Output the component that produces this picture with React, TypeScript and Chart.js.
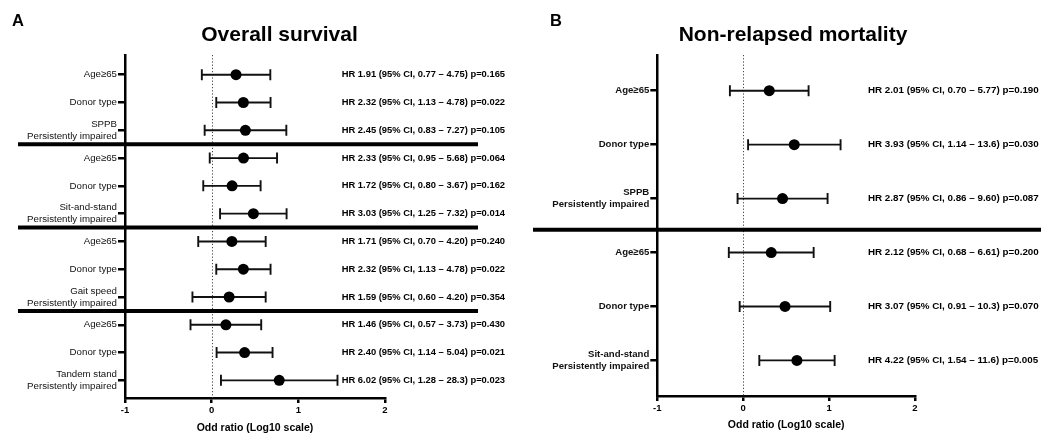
import React, { useEffect, useRef } from 'react';
import { Chart, registerables } from 'chart.js';

Chart.register(...registerables);

const FONT = '"Liberation Sans", Arial, Helvetica, sans-serif';

// ---------- Panel A: Overall survival ----------
const OS_LABELS: (string | string[])[] = [
  'Age≥65',
  'Donor type',
  ['SPPB', 'Persistently impaired'],
  'Age≥65',
  'Donor type',
  ['Sit-and-stand', 'Persistently impaired'],
  'Age≥65',
  'Donor type',
  ['Gait speed', 'Persistently impaired'],
  'Age≥65',
  'Donor type',
  ['Tandem stand', 'Persistently impaired'],
];
const OS_HR = [1.91, 2.32, 2.45, 2.33, 1.72, 3.03, 1.71, 2.32, 1.59, 1.46, 2.40, 6.02];
const OS_LO = [0.77, 1.13, 0.83, 0.95, 0.80, 1.25, 0.70, 1.13, 0.60, 0.57, 1.14, 1.28];
const OS_HI = [4.75, 4.78, 7.27, 5.68, 3.67, 7.32, 4.20, 4.78, 4.20, 3.73, 5.04, 28.3];
const OS_P = [0.165, 0.022, 0.105, 0.064, 0.162, 0.014, 0.240, 0.022, 0.354, 0.430, 0.021, 0.023];
const OS_SEPARATORS = [3.5, 6.5, 9.5];

// ---------- Panel B: Non-relapsed mortality ----------
const NRM_LABELS: (string | string[])[] = [
  'Age≥65',
  'Donor type',
  ['SPPB', 'Persistently impaired'],
  'Age≥65',
  'Donor type',
  ['Sit-and-stand', 'Persistently impaired'],
];
const NRM_HR = [2.01, 3.93, 2.87, 2.12, 3.07, 4.22];
const NRM_LO = [0.70, 1.14, 0.86, 0.68, 0.91, 1.54];
const NRM_HI = [5.77, 13.6, 9.60, 6.61, 10.3, 11.6];
const NRM_P = [0.190, 0.030, 0.087, 0.200, 0.070, 0.005];
const NRM_SEPARATORS = [3.58];

const X_TICKS = [-1, 0, 1, 2];
const X_TITLE = 'Odd ratio (Log10 scale)';

function fmt(v: number) {
  return v >= 10 ? v.toFixed(1) : v.toFixed(2);
}

type PanelProps = {
  left: number;
  width: number;
  height: number;
  area: { left: number; right: number; top: number; bottom: number };
  yMin: number;
  yMax: number;
  labels: (string | string[])[];
  hr: number[];
  lo: number[];
  hi: number[];
  p: number[];
  separators: number[];
  labelBold: boolean;
  labelSize: number;
  textX: number;
  textSize: number;
  title: string;
  titleX: number;
  letter: string;
  letterX: number;
  sepX0: number;
  sepX1: number;
  xTitlePadBottom: number;
};

function ForestPanel(props: PanelProps) {
  const ref = useRef<HTMLCanvasElement>(null);
  useEffect(() => {
    const canvas = ref.current;
    if (!canvas) return;
    const P = props;
    const rows = P.labels.map((_, i) => i + 1);
    const points = P.hr.map((h, i) => ({ x: Math.log10(h), y: i + 1 }));

    const decor = {
      id: 'forestDecor',
      beforeDatasetsDraw(chart: any) {
        const ctx = chart.ctx;
        const xs = chart.scales.x;
        const ys = chart.scales.y;
        const ca = chart.chartArea;
        // dotted zero line
        ctx.save();
        ctx.strokeStyle = '#444';
        ctx.lineWidth = 1;
        ctx.setLineDash([1.2, 2]);
        const x0 = Math.round(xs.getPixelForValue(0)) + 0.5;
        ctx.beginPath();
        ctx.moveTo(x0, ca.top);
        ctx.lineTo(x0, ca.bottom);
        ctx.stroke();
        ctx.restore();
        // error bars
        ctx.save();
        ctx.strokeStyle = '#111';
        ctx.lineWidth = 1.9;
        P.hr.forEach((_, i) => {
          const y = ys.getPixelForValue(i + 1);
          const xl = xs.getPixelForValue(Math.log10(P.lo[i]));
          const xh = xs.getPixelForValue(Math.log10(P.hi[i]));
          ctx.beginPath();
          ctx.moveTo(xl, y);
          ctx.lineTo(xh, y);
          ctx.moveTo(xl, y - 5.5);
          ctx.lineTo(xl, y + 5.5);
          ctx.moveTo(xh, y - 5.5);
          ctx.lineTo(xh, y + 5.5);
          ctx.stroke();
        });
        ctx.restore();
      },
      afterDraw(chart: any) {
        const ctx = chart.ctx;
        const ys = chart.scales.y;
        ctx.save();
        // separators
        ctx.strokeStyle = '#000';
        ctx.lineWidth = 4;
        P.separators.forEach((s) => {
          const y = ys.getPixelForValue(s);
          ctx.beginPath();
          ctx.moveTo(P.sepX0, y);
          ctx.lineTo(P.sepX1, y);
          ctx.stroke();
        });
        // HR texts
        ctx.fillStyle = '#000';
        ctx.font = `bold ${P.textSize}px ${FONT}`;
        ctx.textAlign = 'left';
        ctx.textBaseline = 'middle';
        P.hr.forEach((h, i) => {
          const y = ys.getPixelForValue(i + 1);
          const txt = `HR ${fmt(h)} (95% CI, ${fmt(P.lo[i])} – ${fmt(P.hi[i])}) p=${P.p[i].toFixed(3)}`;
          ctx.fillText(txt, P.textX, y);
        });
        // title
        ctx.textBaseline = 'alphabetic';
        ctx.textAlign = 'center';
        ctx.font = `bold 21px ${FONT}`;
        ctx.fillText(P.title, P.titleX, 41);
        // panel letter
        ctx.textAlign = 'left';
        ctx.font = `bold 16.5px ${FONT}`;
        ctx.fillText(P.letter, P.letterX, 26);
        ctx.restore();
      },
    };

    const chart = new Chart(canvas, {
      type: 'scatter',
      data: {
        datasets: [
          {
            data: points,
            pointRadius: 5.5,
            pointHoverRadius: 5.5,
            pointBackgroundColor: '#000',
            pointBorderColor: '#000',
            pointBorderWidth: 0,
            showLine: false,
          },
        ],
      },
      options: {
        responsive: false,
        animation: false,
        devicePixelRatio: 1,
        events: [],
        layout: {
          padding: {
            top: P.area.top,
            right: P.width - P.area.right,
            left: 0,
            bottom: 0,
          },
        },
        plugins: {
          legend: { display: false },
          tooltip: { enabled: false },
          title: { display: false },
        },
        scales: {
          x: {
            type: 'linear',
            min: X_TICKS[0],
            max: X_TICKS[X_TICKS.length - 1],
            afterBuildTicks: (axis: any) => {
              axis.ticks = X_TICKS.map((v) => ({ value: v }));
            },
            afterFit: (axis: any) => {
              axis.height = P.height - P.area.bottom;
            },
            ticks: {
              color: '#000',
              font: { family: FONT, size: 9.5, weight: 'bold' },
              padding: 2,
              autoSkip: false,
              maxRotation: 0,
              callback: (v: any) => String(v),
            },
            grid: {
              display: true,
              drawOnChartArea: false,
              drawTicks: true,
              tickLength: 5,
              tickWidth: 2.5,
              tickColor: '#000',
              color: '#000',
              lineWidth: 2.5,
            },
            border: { display: true, color: '#000', width: 2.5 },
            title: {
              display: true,
              text: X_TITLE,
              color: '#000',
              font: { family: FONT, size: 10.5, weight: 'bold' },
              padding: { top: 0, bottom: P.xTitlePadBottom },
            },
          },
          y: {
            type: 'linear',
            reverse: true,
            min: P.yMin,
            max: P.yMax,
            afterBuildTicks: (axis: any) => {
              axis.ticks = rows.map((v) => ({ value: v }));
            },
            afterFit: (axis: any) => {
              axis.width = P.area.left;
            },
            ticks: {
              color: '#111',
              font: { family: FONT, size: P.labelSize, weight: P.labelBold ? 'bold' : 'normal', lineHeight: 1.25 },
              padding: 1,
              autoSkip: false,
              callback: (v: any) => P.labels[Math.round(v) - 1] as any,
            },
            grid: {
              display: true,
              drawOnChartArea: false,
              drawTicks: true,
              tickLength: 7,
              tickWidth: 2.5,
              tickColor: '#000',
              color: '#000',
              lineWidth: 2.5,
            },
            border: { display: true, color: '#000', width: 2.5 },
          },
        },
      } as any,
      plugins: [decor],
    });
    return () => chart.destroy();
  }, []);

  return (
    <canvas
      ref={ref}
      width={props.width}
      height={props.height}
      style={{ position: 'absolute', left: props.left, top: 0, width: props.width, height: props.height }}
    />
  );
}

export default function App() {
  return (
    <div style={{ position: 'absolute', left: 0, top: 0, width: 1041, height: 434, background: '#fff', overflow: 'hidden' }}>
      <ForestPanel
        left={0}
        width={520}
        height={434}
        area={{ left: 125, right: 385, top: 55, bottom: 398 }}
        yMin={0.29}
        yMax={12.635}
        labels={OS_LABELS}
        hr={OS_HR}
        lo={OS_LO}
        hi={OS_HI}
        p={OS_P}
        separators={OS_SEPARATORS}
        labelBold={false}
        labelSize={9.7}
        textX={341.7}
        textSize={9.4}
        title="Overall survival"
        titleX={279.5}
        letter="A"
        letterX={12}
        sepX0={18}
        sepX1={478}
        xTitlePadBottom={0}
      />
      <ForestPanel
        left={520}
        width={521}
        height={434}
        area={{ left: 137.3, right: 395, top: 55, bottom: 396 }}
        yMin={0.338}
        yMax={6.66}
        labels={NRM_LABELS}
        hr={NRM_HR}
        lo={NRM_LO}
        hi={NRM_HI}
        p={NRM_P}
        separators={NRM_SEPARATORS}
        labelBold={true}
        labelSize={9.6}
        textX={348}
        textSize={9.8}
        title="Non-relapsed mortality"
        titleX={273}
        letter="B"
        letterX={30}
        sepX0={13}
        sepX1={521}
        xTitlePadBottom={2.5}
      />
    </div>
  );
}
